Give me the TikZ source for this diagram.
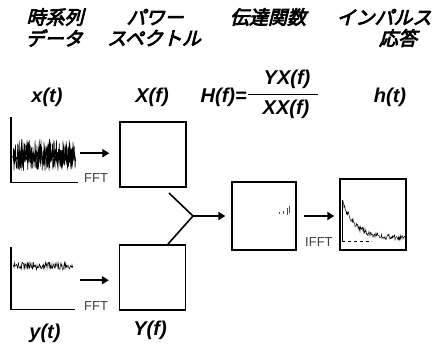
\documentclass[tikz,border=0pt]{standalone}
\usepackage{fontspec}
\setmainfont{Liberation Sans}
\newfontfamily\jp[FakeSlant=0.25,FakeBold=4]{Noto Sans CJK JP}
\usetikzlibrary{arrows.meta}
\begin{document}
\begin{tikzpicture}[x=1pt,y=-1pt,
  jplabel/.style={font=\jp\fontsize{19}{19}\selectfont, inner sep=0},
  mlabel/.style={font=\bfseries\itshape\fontsize{20}{20}\selectfont, inner sep=0},
  fftlabel/.style={font=\fontsize{13}{13}\selectfont, text=black!75, inner sep=0, anchor=west},
  plotbox/.style={draw, line width=1.3pt, inner sep=0, minimum width=66pt, minimum height=65pt},
  plotarea/.style={inner sep=0, minimum width=67pt, minimum height=65pt, anchor=north west},
  axisline/.style={line width=1.2pt},
  arr/.style={line width=2.5pt, -{Triangle[length=7pt,width=8pt]}},
  merge/.style={line width=1.6pt},
  sig/.style={line width=0.45pt}]
\useasboundingbox (0,0) rectangle (436,349);
\pgfmathsetseed{7}

% headers
\node[jplabel] (h1a) at (55,17) {時系列};
\node[jplabel] (h1b) at (54,38) {データ};
\node[jplabel] (h2a) at (155,17) {パワー};
\node[jplabel] (h2b) at (154,38) {スペクトル};
\node[jplabel] (h3a) at (268,17) {伝達関数};
\node[jplabel] (h4a) at (384,17) {インパルス};
\node[jplabel] (h4b) at (398,38) {応答};

% math labels
\node[mlabel] (lx) at (47,97) {x(t)};
\node[mlabel] (lX) at (152,97) {X(f)};
\node[mlabel, anchor=east] (lH) at (247,97) {H(f)=};
\node[mlabel] (num) at (287,79) {YX(f)};
\node[mlabel] (den) at (286,109) {XX(f)};
\draw[line width=1.3pt] (248,94.5) coordinate (bar1) -- (318,94.5) coordinate (bar2);
\node[mlabel] (lh) at (390,97) {h(t)};
\node[mlabel] (ly) at (45,333) {y(t)};
\node[mlabel] (lY) at (150,330) {Y(f)};

% x(t) plot
\node[plotarea] (xt) at (11,117) {};
\draw[axisline] (xt.north west) -- (xt.south west) -- (xt.south east);
\draw[sig] (13,155) \foreach \i in {1,...,250}{ -- ({13+\i*0.25},{155+16*rand}) };
\draw[line width=1.2pt] (13,156) \foreach \i in {1,...,125}{ -- ({13+\i*0.5},{156+6*rand}) };

% y(t) plot
\node[plotarea, minimum width=64pt, minimum height=62pt] (yt) at (11,247) {};
\draw[axisline] (yt.north west) -- (yt.south west) -- (yt.south east);
\draw[sig] (13,266) \foreach \i in {1,...,120}{ -- ({13+\i*0.5},{266+4*rand}) };

% spectra boxes
\node[plotbox] (X) at (153,154.5) {};
\node[plotbox] (Y) at (152.5,277.5) {};
\node[plotbox, minimum width=64pt, minimum height=68pt] (H) at (264,216) {};
\node[plotbox, minimum width=66pt, minimum height=71pt] (h) at (373,214.5) {};

% small marks in H box
\draw[line width=0.5pt, black!70] (279,212) -- (279,214) (283,211) -- (283,214) (287,208) -- (287,215) (289,206) -- (289,213);

% impulse response
\draw[dashed, line width=0.6pt] (342,241) -- (372,241);
\draw[line width=0.8pt] (342,241) -- (342,200);
\draw[sig] (342,200) \foreach \i in {1,...,126}{ -- ({342+\i*0.5},{min(247,238-38*exp(-\i*0.5/13)+3*rand)}) };

% arrows
\draw[arr, shorten <=2pt, shorten >=10pt] ([yshift=-3.5pt]xt.east) -- ([yshift=-3.5pt]xt.east -| X.west);
\draw[arr, shorten <=5pt, shorten >=10pt] ([yshift=-2pt]yt.east) -- ([yshift=-2pt]yt.east -| Y.west);
\node[fftlabel] (fft1) at (84,178) {FFT};
\node[fftlabel] (fft2) at (84,306) {FFT};

\coordinate (m) at (193,216);
\coordinate (m1) at (169,193);
\coordinate (m2) at (168,244);
\draw[merge] (m1) -- (m) -- (m2);
\draw[arr] (m) -- ([xshift=-6pt]H.west);
\draw[arr, shorten <=7pt, shorten >=5pt] (H.east) -- (H.east -| h.west);
\node[fftlabel] (ifft) at (305,242) {IFFT};
\end{tikzpicture}
\end{document}
